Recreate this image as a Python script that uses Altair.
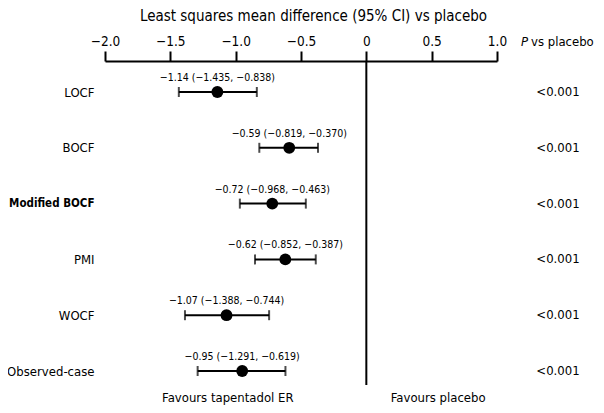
import altair as alt
import pandas as pd

methods = ["LOCF", "BOCF", "Modified BOCF", "PMI", "WOCF", "Observed-case"]
estimate = [-1.14, -0.59, -0.72, -0.62, -1.07, -0.95]
ci_low = [-1.435, -0.819, -0.968, -0.852, -1.388, -1.291]
ci_high = [-0.838, -0.370, -0.463, -0.387, -0.744, -0.619]
p_values = ["<0.001", "<0.001", "<0.001", "<0.001", "<0.001", "<0.001"]
x_ticks = [-2.0, -1.5, -1.0, -0.5, 0.0, 0.5, 1.0]
favour_text = ["Favours tapentadol ER", "Favours placebo"]
favour_pos = [-1.06, 0.55]

def fmt(v, d):
    return f"{v:.{d}f}".replace("-", "\u2212")

df = pd.DataFrame({
    "method": methods,
    "est": estimate,
    "lo": ci_low,
    "hi": ci_high,
    "p": p_values,
})
df["label"] = [f"{fmt(e, 2)} ({fmt(l, 3)}, {fmt(h, 3)})" for e, l, h in zip(estimate, ci_low, ci_high)]

FONT = "DejaVu Sans Condensed"
W, H = 392, 324

xscale = alt.Scale(domain=[-2, 1], nice=False, zero=False)
yscale = alt.Scale(type="point", domain=methods, range=[31, 310], padding=0)

x_enc = alt.X(
    "est:Q", scale=xscale,
    axis=alt.Axis(
        orient="top", values=x_ticks, labelFlush=False,
        labelExpr="datum.value == 0 ? '0' : replace(format(datum.value, '.1f'), '-', '\u2212')",
        title="Least squares mean difference (95% CI) vs placebo",
        titleFontSize=15, titleFontWeight="normal", titleX=208, titleY=-46,
        titleAlign="center", titleBaseline="middle",
        labelFontSize=13.5, labelPadding=3, tickSize=10, tickWidth=2,
        domainWidth=2, domainColor="black", tickColor="black",
        labelColor="black", titleColor="black", grid=False,
    ),
)
y_enc = alt.Y(
    "method:N", scale=yscale, sort=methods,
    axis=alt.Axis(
        title=None, ticks=False, domain=False, labelPadding=11,
        labelColor="black", labelLimit=0,
        labelFontSize=alt.expr("datum.value == 'Modified BOCF' ? 11.5 : 13"),
        labelFontWeight=alt.expr("datum.value == 'Modified BOCF' ? 'bold' : 'normal'"),
    ),
)

base = alt.Chart(df)

zero_line = base.mark_rule(color="black", strokeWidth=2).encode(
    x=alt.X("z:Q", scale=xscale)
).transform_calculate(z="0").transform_aggregate(z="min(z)")

bars = base.mark_rule(color="black", strokeWidth=2).encode(
    x=alt.X("lo:Q", scale=xscale), x2="hi:Q", y=y_enc
)
cap_lo = base.mark_tick(color="black", thickness=2, size=10, orient="vertical").encode(
    x=alt.X("lo:Q", scale=xscale), y=y_enc
)
cap_hi = base.mark_tick(color="black", thickness=2, size=10, orient="vertical").encode(
    x=alt.X("hi:Q", scale=xscale), y=y_enc
)
points = base.mark_circle(color="black", opacity=1, size=140).encode(x=x_enc, y=y_enc)
labels = base.mark_text(fontSize=10.5, dy=-14, color="black", font=FONT).encode(
    x=alt.X("est:Q", scale=xscale), y=y_enc, text="label:N"
)
pvals = base.mark_text(fontSize=13, align="center", color="black", font=FONT).encode(
    x=alt.value(W + 61), y=y_enc, text="p:N"
)

ann = pd.DataFrame({"t": favour_text, "xv": favour_pos})
bottom = alt.Chart(ann).mark_text(fontSize=13, color="black", font=FONT).encode(
    x=alt.X("xv:Q", scale=xscale), y=alt.value(H + 13), text="t:N"
)
hdr = pd.DataFrame({"t": ["P", "vs placebo"]})
header_p = alt.Chart(hdr.iloc[[0]]).mark_text(fontSize=13, color="black", font=FONT, align="left", fontStyle="italic").encode(
    x=alt.value(W + 24), y=alt.value(-19), text="t:N"
)
header_v = alt.Chart(hdr.iloc[[1]]).mark_text(fontSize=13, color="black", font=FONT, align="left").encode(
    x=alt.value(W + 34), y=alt.value(-19), text="t:N"
)

chart = alt.layer(
    zero_line, bars, cap_lo, cap_hi, points, labels, pvals, bottom, header_p, header_v
).properties(
    width=W, height=H,
    autosize=alt.AutoSizeParams(type="none"),
    padding={"left": 97, "top": 53, "right": 99, "bottom": 20},
).configure(
    font=FONT, background="white"
).configure_view(stroke=None).configure_axis(labelFont=FONT, titleFont=FONT)

chart.save("out.html", embed_options={"renderer": "svg", "actions": False})
